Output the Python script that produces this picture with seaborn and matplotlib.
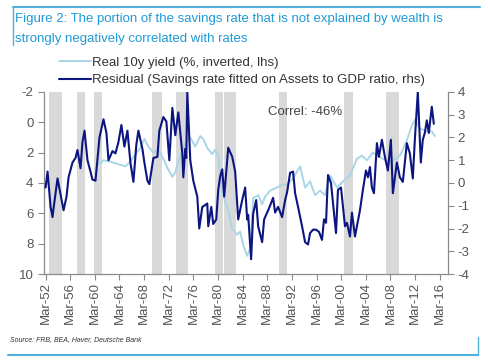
import numpy as np
import pandas as pd
import matplotlib
matplotlib.use('Agg')
import matplotlib.pyplot as plt
import seaborn as sns

# ------------------------------------------------------------------
# data (decimal years)
yield_year = [1960.43, 1961.08, 1961.57, 1962.70, 1963.51, 1964.32, 1965.13, 1965.94,
              1966.75, 1967.56, 1968.21, 1968.86, 1969.67, 1970.48, 1971.29, 1971.94,
              1972.75, 1973.23, 1973.72, 1974.37, 1975.01, 1975.66, 1976.47, 1977.28,
              1977.77, 1978.42, 1979.23, 1979.71, 1980.20, 1980.52, 1981.01, 1981.82,
              1982.47, 1983.28, 1983.76, 1984.25, 1984.90, 1985.38, 1985.87, 1986.68,
              1987.33, 1987.81, 1988.62, 1989.76, 1990.57, 1991.38, 1992.35, 1993.49,
              1994.30, 1995.11, 1995.92, 1996.73, 1997.54, 1998.35, 1999.48, 2000.45,
              2001.59, 2002.72, 2003.53, 2004.34, 2005.31, 2006.12, 2007.26, 2008.39,
              2009.69, 2010.82, 2011.63, 2012.12, 2012.93, 2014.06, 2014.87, 2015.36]
yield_inv = [2.7, 2.7, 2.5, 2.6, 2.7, 2.8, 2.9, 2.6,
             2.1, 1.7, 1.1, 1.6, 2.0, 1.8, 2.4, 3.0,
             3.6, 3.3, 2.6, 1.8, 1.3, 1.0, 1.6, 0.9,
             1.1, 1.7, 2.1, 1.8, 2.2, 3.4, 4.8, 5.8,
             7.0, 7.4, 7.2, 8.1, 8.8, 8.3, 5.0, 4.8,
             5.4, 4.9, 4.5, 4.3, 4.1, 4.1, 3.7, 2.9,
             4.3, 3.9, 4.8, 4.5, 4.8, 3.5, 4.3, 3.9,
             3.5, 2.4, 2.2, 2.5, 2.0, 2.2, 2.5, 2.6,
             2.2, 1.2, 0.2, -0.15, 0.4, 0.6, 0.6, 0.9]

resid_year = [1952.17, 1952.49, 1952.98, 1953.30, 1953.47, 1954.11, 1954.60, 1955.09,
              1955.57, 1955.90, 1956.54, 1957.03, 1957.35, 1957.84, 1958.16, 1958.49,
              1958.97, 1959.46, 1959.78, 1960.27, 1960.92, 1961.57, 1962.05, 1962.38,
              1963.03, 1963.51, 1964.00, 1964.48, 1964.97, 1965.46, 1965.94, 1966.43,
              1966.91, 1967.24, 1967.89, 1968.21, 1968.70, 1969.02, 1969.67, 1970.32,
              1970.64, 1971.29, 1971.78, 1972.26, 1972.75, 1973.23, 1973.72, 1974.37,
              1974.53, 1974.85, 1975.01, 1975.18, 1975.66, 1976.15, 1976.80, 1977.12,
              1977.61, 1977.93, 1978.42, 1978.58, 1979.07, 1979.39, 1979.88, 1980.20,
              1980.52, 1980.85, 1981.17, 1981.82, 1982.47, 1982.95, 1983.44, 1984.09,
              1984.57, 1984.90, 1985.06, 1985.54, 1985.87, 1986.36, 1986.68, 1987.33,
              1987.65, 1988.14, 1988.46, 1989.11, 1989.43, 1989.92, 1990.57, 1991.06,
              1991.38, 1991.87, 1992.35, 1992.68, 1993.16, 1993.81, 1994.30, 1994.78,
              1995.11, 1995.59, 1996.08, 1996.56, 1997.05, 1997.37, 1997.70, 1998.02,
              1998.51, 1998.84, 1999.32, 1999.64, 2000.13, 2000.45, 2000.78, 2001.10,
              2001.59, 2001.91, 2002.40, 2002.72, 2003.21, 2003.69, 2004.18, 2004.51,
              2004.83, 2005.15, 2005.48, 2005.96, 2006.29, 2006.77, 2007.26, 2007.74,
              2008.23, 2008.55, 2008.88, 2009.20, 2009.69, 2010.17, 2010.82, 2011.31,
              2011.79, 2012.12, 2012.60, 2013.09, 2013.41, 2013.74, 2014.06, 2014.39,
              2014.87, 2015.20]
resid = [-0.2, 0.5, -1.05, -1.5, -1.1, 0.2, -0.5, -1.2,
         -0.6, 0.25, 0.9, 1.1, 1.45, 0.65, 1.8, 2.3,
         1.0, 0.5, 0.15, 0.1, 2.0, 2.8, 2.2, 1.0,
         1.4, 1.3, 1.8, 2.55, 1.6, 2.3, 0.9, 0.05,
         1.7, 2.3, 1.5, 0.9, 0.1, -0.05, 1.1, 1.15,
         2.3, 2.9, 2.7, 1.0, 3.3, 2.1, 3.1, 1.3,
         0.25, 1.5, 1.1, 4.0, 1.0, 0.1, -0.6, -2.0,
         -1.05, -1.0, -0.9, -1.9, -1.05, -1.8, -1.6, -0.3,
         0.3, 0.6, -0.6, 1.55, 1.15, 0.5, -1.6, -0.75,
         -0.2, -1.6, -1.4, -3.35, -1.35, -0.75, -1.9, -2.6,
         -1.6, -1.3, -1.1, -0.65, -1.3, -1.05, -1.5, -0.75,
         -0.4, 0.45, 0.5, -0.45, -1.05, -1.9, -2.6, -2.7,
         -2.2, -2.05, -2.05, -2.15, -2.5, -1.6, -1.75, 0.35,
         0.0, -0.9, -2.2, -0.3, -0.2, -1.05, -1.9, -1.75,
         -2.35, -1.3, -2.35, -1.9, -1.2, -0.3, 0.55, 0.25,
         0.7, -0.2, -0.45, 1.75, 1.15, 1.9, 1.15, 0.55,
         1.9, -0.45, 0.25, 0.9, 0.25, 0.05, 1.75, 1.3,
         0.2, 1.9, 4.0, 0.9, 1.9, 2.2, 2.75, 2.2,
         3.35, 2.6]

# shaded recession bands as drawn
rec_start = [1952.8, 1957.2, 1960.0, 1969.5, 1973.4, 1979.7, 1981.2, 1990.1, 2000.6, 2007.4]
rec_end = [1954.8, 1958.6, 1961.4, 1971.1, 1975.3, 1980.9, 1983.1, 1991.4, 2002.1, 2009.5]

tick_years = np.arange(1952, 2017, 4)
tick_labels = ['Mar-%02d' % (y % 100) for y in tick_years]

title_lines = ['Figure 2: The portion of the savings rate that is not explained by wealth is',
               'strongly negatively correlated with rates']

df_y = pd.DataFrame({'year': yield_year, 'val': yield_inv})
df_r = pd.DataFrame({'year': resid_year, 'val': resid})

# ------------------------------------------------------------------
sns.set_style('white')
plt.rcParams['font.family'] = ['Liberation Sans', 'DejaVu Sans']
plt.rcParams['axes.unicode_minus'] = False

light = '#a9d6e6'
navy = '#0c1580'
grey_txt = '#555555'
frame_col = '#4fb0d8'

fig = plt.figure(figsize=(4.88, 3.62), dpi=100)
ax = fig.add_axes([0.090, 0.243, 0.828, 0.503])
ax2 = ax.twinx()

for s, e in zip(rec_start, rec_end):
    ax.axvspan(s, e, color='#d9d9d9', lw=0, zorder=0)

sns.lineplot(data=df_y, x='year', y='val', ax=ax, color=light, lw=1.4, zorder=2)
sns.lineplot(data=df_r, x='year', y='val', ax=ax2, color=navy, lw=1.5, zorder=3)

ax.set_xlim(1951.9, 2017.5)
ax.set_ylim(10, -2)
ax2.set_ylim(-4, 4)
ax.set_yticks(range(-2, 11, 2))
ax2.set_yticks(range(-4, 5))
ax.set_xticks(tick_years + 2 / 12)
ax.set_xticklabels(tick_labels, rotation=90)
for a in (ax, ax2):
    a.set_xlabel('')
    a.set_ylabel('')
    a.spines['top'].set_visible(False)
    for sp in ('left', 'right', 'bottom'):
        a.spines[sp].set_color('#8a8a8a')
    a.tick_params(colors='#8a8a8a', labelcolor=grey_txt, labelsize=9.5, length=4, width=0.8)
ax.tick_params(axis='y', left=True, right=False)
ax.tick_params(axis='x', bottom=True, pad=2)
ax2.tick_params(axis='y', right=True, pad=3)
ax2.set_zorder(ax.get_zorder() + 1)
ax2.patch.set_visible(False)

ax.text(0.555, 0.875, 'Correl: -46%', transform=ax.transAxes, fontsize=9.5, color='#444444')

# legend
handles = [plt.Line2D([], [], color=light, lw=1.4), plt.Line2D([], [], color=navy, lw=1.5)]
fig.legend(handles, ['Real 10y yield (%, inverted, lhs)',
                     'Residual (Savings rate fitted on Assets to GDP ratio, rhs)'],
           loc='upper left', bbox_to_anchor=(0.11, 0.858), frameon=False, fontsize=9.5,
           handlelength=2.4, handletextpad=0.1, labelspacing=0.38, borderaxespad=0,
           labelcolor='#333333')

# title and frame
fig.text(0.03, 0.947, title_lines[0], fontsize=9.5, color='#1f9ad6', va='center', ha='left')
fig.text(0.03, 0.893, title_lines[1], fontsize=9.5, color='#1f9ad6', va='center', ha='left')
fig.add_artist(plt.Line2D([0.027, 0.984], [0.981, 0.981], color=frame_col, lw=1.5))
fig.add_artist(plt.Line2D([0.027, 0.027], [0.981, 0.875], color=frame_col, lw=1.0))
fig.add_artist(plt.Line2D([0.016, 0.98], [0.02, 0.02], color=frame_col, lw=1.5))
fig.add_artist(plt.Line2D([0.98, 0.98], [0.02, 0.07], color=frame_col, lw=1.0))
fig.text(0.02, 0.052, 'Source: FRB, BEA, Haver, Deutsche Bank', fontsize=5, style='italic',
         color='#333333', va='bottom')

plt.savefig('out.png', dpi=100)
